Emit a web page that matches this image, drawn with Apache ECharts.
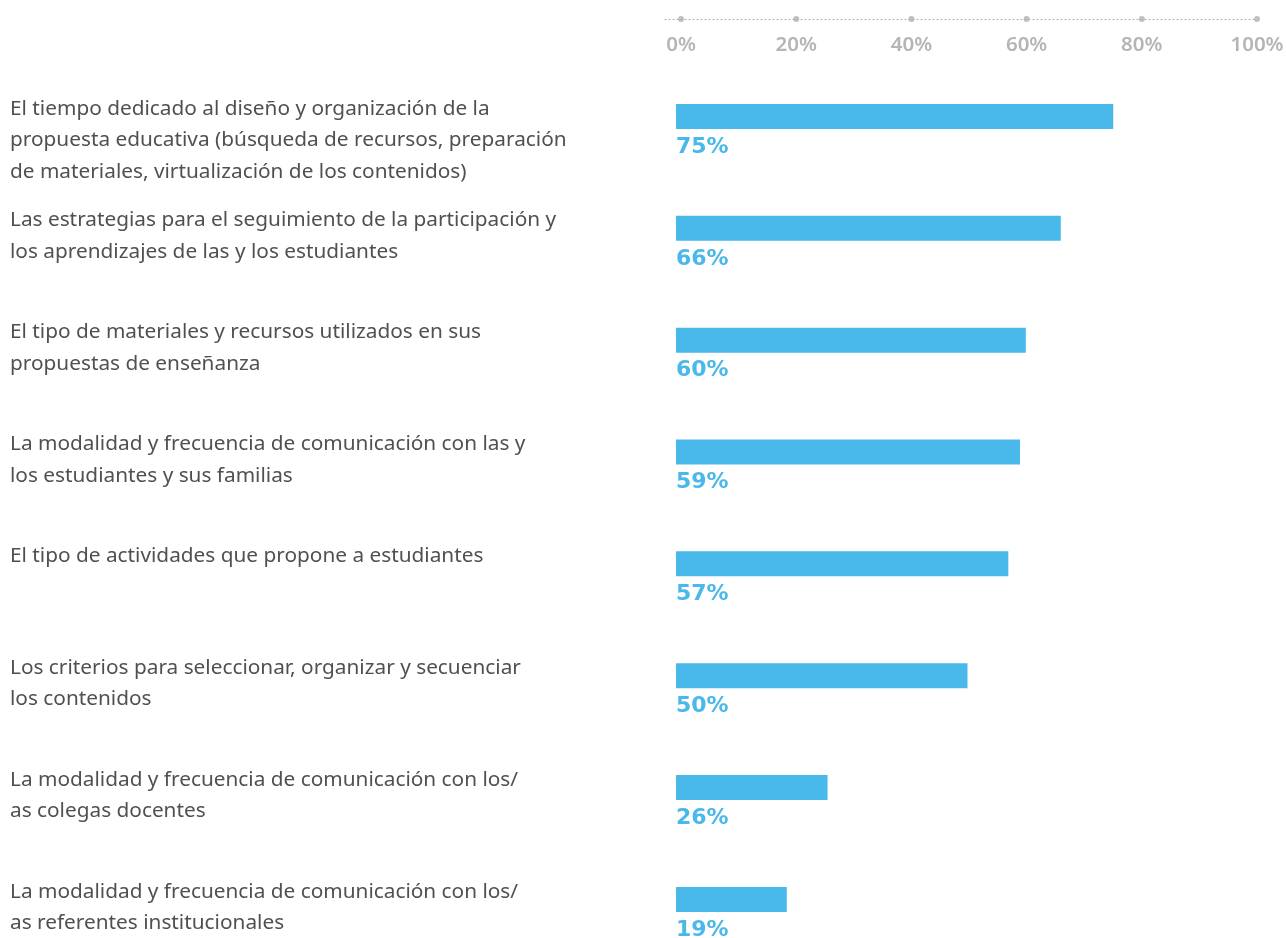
<!DOCTYPE html>
<html><head><meta charset="utf-8">
<script src="https://cdn.jsdelivr.net/npm/echarts@6/dist/echarts.min.js"></script>
<style>html,body{margin:0;padding:0;background:#fff}#c{width:1286px;height:938px}</style>
</head><body><div id="c"></div>
<script>
const categories = [
  "El tiempo dedicado al diseño y organización de la\npropuesta educativa (búsqueda de recursos, preparación\nde materiales, virtualización de los contenidos)",
  "Las estrategias para el seguimiento de la participación y\nlos aprendizajes de las y los estudiantes",
  "El tipo de materiales y recursos utilizados en sus\npropuestas de enseñanza",
  "La modalidad y frecuencia de comunicación con las y\nlos estudiantes y sus familias",
  "El tipo de actividades que propone a estudiantes",
  "Los criterios para seleccionar, organizar y secuenciar\nlos contenidos",
  "La modalidad y frecuencia de comunicación con los/\nas colegas docentes",
  "La modalidad y frecuencia de comunicación con los/\nas referentes institucionales"
];
const values = [75, 66, 60, 59, 57, 50, 26, 19];
const ticks = [0, 20, 40, 60, 80, 100];

const band = 111.86;
const barsTop = 60.5;
const n = categories.length;

const chart = echarts.init(document.getElementById('c'), null, {renderer: 'canvas'});
chart.setOption({
  animation: false,
  backgroundColor: '#ffffff',
  grid: [
    {left: 676, width: 583, top: barsTop, height: band * n, outerBoundsMode: 'none', containLabel: false},
    {left: 10, width: 600, top: barsTop - 23.5, height: band * n, outerBoundsMode: 'none', containLabel: false},
    {left: 665, width: 592, top: 19, height: 10, outerBoundsMode: 'none', containLabel: false}
  ],
  xAxis: [
    {gridIndex: 0, type: 'value', min: 0, max: 100, show: false},
    {gridIndex: 1, type: 'value', min: 0, max: 100, show: false},
    {gridIndex: 2, type: 'value', position: 'top', min: -2.78, max: 100,
     axisLine: {show: true, onZero: false, lineStyle: {type: [1, 3], color: '#a8a8a8', width: 1}},
     axisTick: {show: false},
     splitLine: {show: false},
     axisLabel: {show: true, inside: true, customValues: ticks, margin: 16,
       formatter: '{value}%', color: '#b5b5b5', fontSize: 20.5,
       fontFamily: 'Noto Sans', fontWeight: 600}}
  ],
  yAxis: [
    {gridIndex: 0, type: 'category', data: categories, inverse: true, show: false},
    {gridIndex: 1, type: 'category', data: categories, inverse: true,
     axisLine: {show: false}, axisTick: {show: false},
     axisLabel: {align: 'left', verticalAlign: 'top', margin: 0, lineHeight: 31.5,
       fontSize: 20.8, fontFamily: 'Noto Sans', color: '#505050'}},
    {gridIndex: 2, type: 'value', min: 0, max: 1, show: false}
  ],
  series: [
    {type: 'bar', xAxisIndex: 0, yAxisIndex: 0, data: values, barWidth: 25,
     itemStyle: {color: '#48b9ea'},
     label: {show: true, position: [0, 32], align: 'left', verticalAlign: 'top',
       formatter: '{c}%', fontFamily: 'DejaVu Sans', fontWeight: 'bold',
       fontSize: 22, color: '#4ab8ea'}},
    {type: 'scatter', xAxisIndex: 2, yAxisIndex: 2, data: ticks.map(t => [t, 1]),
     symbolSize: 6, itemStyle: {color: '#b0b0b0'}, clip: false, silent: true}
  ]
});
</script></body></html>
